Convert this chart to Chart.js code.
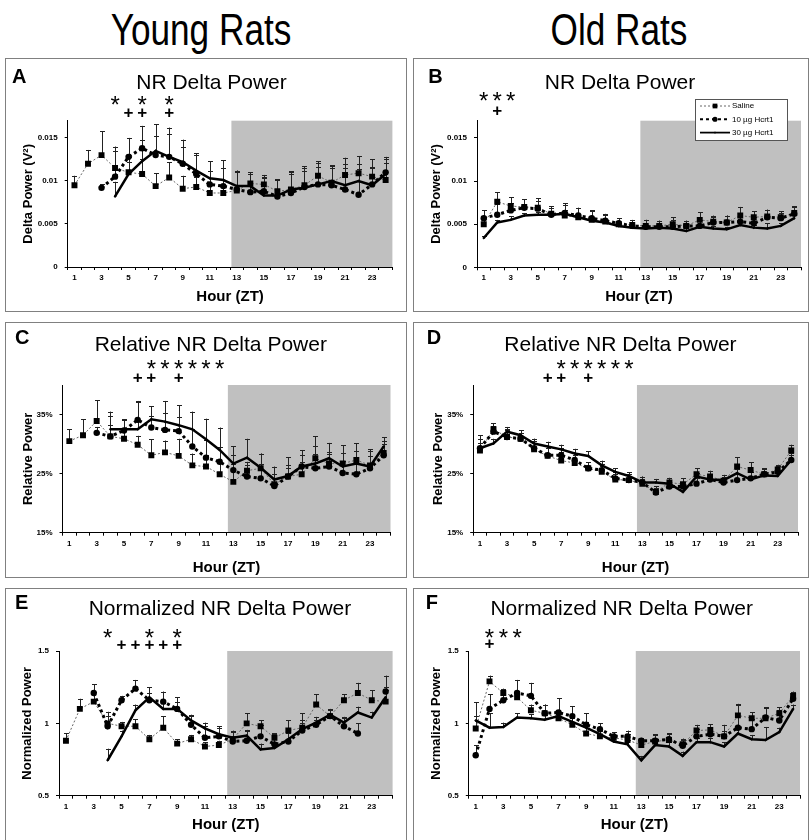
<!DOCTYPE html>
<html>
<head>
<meta charset="utf-8">
<script src="https://cdn.jsdelivr.net/npm/chart.js@4.4.1/dist/chart.umd.min.js"></script>
<style>
  body { margin: 0; background: #fff; }
  #fig { position: relative; width: 810px; height: 840px; overflow: hidden; background: #fff;
         font-family: 'Liberation Sans', Arial, sans-serif; color: #000; }
  .box { position: absolute; border: 1px solid #808080; box-sizing: border-box; }
  .cv { position: absolute; }
  .head { position: absolute; width: 300px; text-align: center; font-size: 44px; line-height: 1;
          transform: scaleX(0.8); white-space: nowrap; }
  .letter { position: absolute; font-weight: bold; font-size: 20px; line-height: 1; }
  .ptitle { position: absolute; width: 360px; text-align: center; font-size: 21px; line-height: 1; white-space: nowrap; }
</style>
</head>
<body>
<div id="fig">
  <div class="head" style="left:51px;top:8px">Young Rats</div>
  <div class="head" style="left:469px;top:8px">Old Rats</div>
</div>
<script>
/* Delta power across the day, young vs old rats */
const hours = [1, 2, 3, 4, 5, 6, 7, 8, 9, 10, 11, 12, 13, 14, 15, 16, 17, 18, 19, 20, 21, 22, 23, 24];
const hourTicks = [1, 3, 5, 7, 9, 11, 13, 15, 17, 19, 21, 23];
const nightStart = 12.6;
const seriesNames = ['Saline', '10 µg Hcrt1', '30 µg Hcrt1'];

const yTicksPower = [0, 0.005, 0.01, 0.015];
const yTicksRel = [15, 25, 35];
const yTicksNorm = [0.5, 1, 1.5];

// A - young, NR delta power
const aSaline = [0.0095, 0.0120, 0.0130, 0.0115, 0.0110, 0.0108, 0.0094, 0.0104, 0.0091, 0.0093, 0.0086, 0.0086, 0.0089, 0.0097, 0.0096, 0.0088, 0.0090, 0.0095, 0.0106, 0.0098, 0.0107, 0.0109, 0.0105, 0.0101];
const aSalineErr = [0.0011, 0.0016, 0.0028, 0.0025, 0.0012, 0.0017, 0.0015, 0.0018, 0.0015, 0.0012, 0.0011, 0.0010, 0.0023, 0.0013, 0.0011, 0.0014, 0.0021, 0.0022, 0.0017, 0.0019, 0.0020, 0.0020, 0.0020, 0.0020];
const aLow = [null, null, 0.0092, 0.0105, 0.0128, 0.0138, 0.0130, 0.0128, 0.0120, 0.0108, 0.0096, 0.0094, 0.0090, 0.0087, 0.0088, 0.0082, 0.0086, 0.0093, 0.0096, 0.0095, 0.0090, 0.0084, 0.0096, 0.0110];
const aLowErr = [null, null, 0.0004, 0.0030, 0.0022, 0.0026, 0.0022, 0.0026, 0.0020, 0.0022, 0.0016, 0.0021, 0.0020, 0.0021, 0.0016, 0.0019, 0.0022, 0.0022, 0.0025, 0.0020, 0.0030, 0.0030, 0.0020, 0.0015];
const aHigh = [null, null, null, 0.0082, 0.0108, 0.0123, 0.0135, 0.0128, 0.0122, 0.0112, 0.0103, 0.0101, 0.0094, 0.0094, 0.0083, 0.0083, 0.0090, 0.0092, 0.0096, 0.0100, 0.0095, 0.0100, 0.0095, 0.0108];
const aHighErr = [null, null, null, 0.0017, 0.0020, 0.0025, 0.0031, 0.0034, 0.0026, 0.0020, 0.0020, 0.0023, 0.0018, 0.0016, 0.0020, 0.0018, 0.0020, 0.0020, 0.0020, 0.0018, 0.0020, 0.0020, 0.0020, 0.0020];

// B - old, NR delta power
const bSaline = [0.0050, 0.0076, 0.0071, 0.0070, 0.0069, 0.0062, 0.0060, 0.0058, 0.0055, 0.0053, 0.0050, 0.0049, 0.0048, 0.0048, 0.0050, 0.0048, 0.0055, 0.0053, 0.0052, 0.0060, 0.0058, 0.0059, 0.0058, 0.0063];
const bSalineErr = [0.0008, 0.0011, 0.0010, 0.0009, 0.0011, 0.0009, 0.0014, 0.0011, 0.0011, 0.0009, 0.0007, 0.0006, 0.0007, 0.0006, 0.0008, 0.0006, 0.0009, 0.0007, 0.0008, 0.0010, 0.0007, 0.0008, 0.0007, 0.0008];
const bLow = [0.0057, 0.0061, 0.0066, 0.0069, 0.0068, 0.0061, 0.0063, 0.0060, 0.0057, 0.0054, 0.0051, 0.0048, 0.0047, 0.0047, 0.0047, 0.0048, 0.0048, 0.0052, 0.0052, 0.0053, 0.0051, 0.0058, 0.0057, 0.0062];
const bLowErr = [0.0009, 0.0012, 0.0008, 0.0010, 0.0009, 0.0008, 0.0009, 0.0009, 0.0008, 0.0007, 0.0006, 0.0005, 0.0008, 0.0007, 0.0008, 0.0006, 0.0007, 0.0006, 0.0008, 0.0009, 0.0007, 0.0008, 0.0006, 0.0008];
const bHigh = [0.0034, 0.0052, 0.0055, 0.0060, 0.0061, 0.0061, 0.0062, 0.0058, 0.0054, 0.0052, 0.0048, 0.0046, 0.0045, 0.0046, 0.0045, 0.0042, 0.0047, 0.0045, 0.0044, 0.0049, 0.0046, 0.0045, 0.0048, 0.0057];
const bHighErr = [0.0002, 0.0003, 0.0004, 0.0003, 0.0003, 0.0003, 0.0004, 0.0003, 0.0003, 0.0003, 0.0003, 0.0003, 0.0003, 0.0003, 0.0003, 0.0003, 0.0003, 0.0003, 0.0003, 0.0004, 0.0003, 0.0006, 0.0003, 0.0004];

// C - young, relative power (%)
const cSaline = [30.5, 31.5, 33.9, 31.3, 30.9, 29.9, 28.1, 28.6, 28.0, 26.4, 26.2, 24.9, 23.6, 25.5, 25.9, 23.2, 24.5, 24.9, 27.6, 26.7, 26.7, 27.3, 26.4, 28.5];
const cSalineErr = [2.0, 2.7, 3.5, 2.0, 1.5, 1.5, 2.7, 2.0, 2.9, 2.0, 2.0, 2.0, 3.0, 1.5, 2.5, 1.8, 1.5, 2.0, 2.0, 1.7, 1.8, 1.5, 2.5, 1.5];
const cLow = [null, null, 31.9, 31.3, 32.3, 34.1, 32.8, 32.4, 32.2, 29.6, 27.7, 27.0, 25.6, 24.5, 24.2, 22.9, 24.5, 26.2, 25.9, 26.2, 25.1, 24.9, 25.9, 28.1];
const cLowErr = [null, null, 1.0, 3.5, 1.8, 3.2, 2.0, 2.8, 2.4, 3.0, 3.0, 2.5, 2.5, 2.0, 2.5, 2.0, 2.0, 2.0, 2.5, 2.5, 2.0, 2.0, 2.0, 2.5];
const cHigh = [null, null, null, 32.5, 32.5, 32.5, 34.2, 33.8, 33.2, 32.5, 30.8, 29.0, 26.7, 27.7, 26.0, 24.0, 24.6, 26.2, 26.7, 27.6, 26.2, 26.7, 26.2, 29.6];
const cHighErr = [null, null, null, 3.0, 1.7, 4.7, 2.2, 3.5, 3.4, 3.0, 3.5, 3.8, 2.9, 3.2, 2.4, 2.2, 3.2, 2.8, 4.6, 2.6, 3.6, 3.4, 2.9, 1.6];

// D - old, relative power (%)
const dSaline = [28.9, 32.5, 31.2, 30.9, 29.1, 28.0, 27.2, 26.8, 25.9, 25.3, 24.0, 23.9, 23.3, 21.9, 23.5, 23.2, 24.9, 24.5, 23.8, 26.2, 25.6, 24.9, 25.7, 28.9];
const dSalineErr = [2.6, 1.0, 1.3, 1.0, 1.8, 1.4, 1.4, 1.4, 1.0, 1.0, 1.0, 1.0, 1.2, 1.0, 0.8, 1.0, 1.0, 1.0, 1.0, 1.6, 1.3, 0.8, 0.8, 1.0];
const dLow = [29.3, 32.1, 31.2, 30.9, 29.3, 28.1, 28.1, 27.3, 25.9, 25.6, 24.2, 23.9, 23.5, 21.8, 22.8, 22.8, 23.3, 24.0, 23.5, 23.9, 24.2, 24.9, 25.3, 27.3];
const dLowErr = [1.5, 1.0, 1.2, 1.0, 1.2, 1.2, 1.2, 1.2, 1.0, 1.0, 1.0, 1.0, 1.0, 0.8, 0.8, 0.8, 1.0, 1.0, 1.0, 1.0, 1.0, 1.0, 1.0, 1.2];
const dHigh = [29.3, 30.1, 32.1, 31.5, 30.1, 29.6, 29.1, 28.4, 28.0, 26.4, 25.3, 24.6, 23.5, 23.5, 23.3, 21.9, 24.5, 24.0, 23.9, 25.1, 24.0, 24.7, 24.6, 27.3];
const dHighErr = [0.8, 0.8, 0.8, 0.8, 0.8, 0.8, 0.8, 0.8, 0.8, 0.8, 0.6, 0.6, 0.6, 0.6, 0.6, 0.6, 0.6, 0.6, 0.6, 0.6, 0.6, 0.6, 0.6, 0.8];

// E - young, normalized power
const eSaline = [0.88, 1.10, 1.15, 1.00, 0.98, 0.98, 0.89, 0.97, 0.86, 0.89, 0.84, 0.85, 0.89, 1.00, 0.98, 0.90, 0.95, 0.97, 1.13, 1.05, 1.16, 1.21, 1.16, 1.15];
const eSalineErr = [0.05, 0.07, 0.07, 0.08, 0.03, 0.05, 0.03, 0.08, 0.03, 0.03, 0.03, 0.03, 0.06, 0.07, 0.04, 0.03, 0.07, 0.10, 0.07, 0.04, 0.04, 0.07, 0.07, 0.10];
const eLow = [null, null, 1.21, 0.98, 1.16, 1.24, 1.16, 1.15, 1.10, 0.99, 0.90, 0.91, 0.875, 0.88, 0.91, 0.855, 0.875, 0.95, 0.99, 1.05, 0.98, 0.93, null, 1.22];
const eLowErr = [null, null, 0.06, 0.07, 0.03, 0.06, 0.05, 0.07, 0.08, 0.06, 0.08, 0.07, 0.07, 0.07, 0.08, 0.07, 0.07, 0.07, 0.03, 0.04, 0.06, 0.07, null, 0.11];
const eHigh = [null, null, null, 0.745, 0.91, 1.09, 1.18, 1.10, 1.10, 1.02, 0.965, 0.925, 0.90, 0.915, 0.82, 0.83, 0.89, 0.96, 1.005, 1.06, 1.005, 1.075, 1.04, 1.18];
const eHighErr = [null, null, null, 0.08, 0.04, 0.04, 0.07, 0.05, 0.05, 0.04, 0.04, 0.04, 0.04, 0.04, 0.04, 0.04, 0.04, 0.04, 0.04, 0.04, 0.04, 0.04, 0.04, 0.05];

// F - old, normalized power
const fSaline = [0.965, 1.29, 1.21, 1.18, 1.09, 1.07, 1.035, 0.99, 0.93, 0.91, 0.90, 0.885, 0.85, 0.875, 0.885, 0.855, 0.95, 0.955, 0.91, 1.055, 1.035, 1.035, 1.07, 1.19];
const fSalineErr = [0.18, 0.04, 0.03, 0.12, 0.04, 0.06, 0.14, 0.07, 0.08, 0.04, 0.04, 0.04, 0.04, 0.05, 0.04, 0.04, 0.04, 0.04, 0.08, 0.08, 0.04, 0.07, 0.04, 0.03];
const fLow = [0.78, 1.10, 1.16, 1.21, 1.19, 1.07, 1.075, 1.05, 0.99, 0.96, 0.91, 0.91, 0.88, 0.88, 0.89, 0.845, 0.91, 0.925, 0.91, 0.97, 0.96, 1.04, 1.02, 1.17];
const fLowErr = [0.07, 0.10, 0.04, 0.09, 0.09, 0.06, 0.10, 0.07, 0.08, 0.04, 0.03, 0.04, 0.02, 0.04, 0.04, 0.04, 0.05, 0.05, 0.04, 0.16, 0.07, 0.07, 0.07, 0.04];
const fHigh = [1.02, 0.97, 0.975, 1.04, 1.035, 1.025, 1.05, 1.01, 0.97, 0.925, 0.875, 0.855, 0.745, 0.85, 0.84, 0.775, 0.87, 0.87, 0.84, 0.93, 0.89, 0.885, 0.94, 1.10];
const fHighErr = [0.03, 0.10, 0.03, 0.03, 0.03, 0.03, 0.03, 0.03, 0.03, 0.03, 0.03, 0.03, 0.03, 0.03, 0.03, 0.03, 0.03, 0.03, 0.03, 0.03, 0.03, 0.09, 0.03, 0.03];

// significance marks (hours)
const starsA = [4, 6, 8], plusA = [5, 6, 8];
const starsB = [1, 2, 3], plusB = [2];
const starsC = [7, 8, 9, 10, 11, 12], plusC = [6, 7, 9];
const starsD = [7, 8, 9, 10, 11, 12], plusD = [6, 7, 9];
const starsE = [4, 7, 9], plusE = [5, 6, 7, 8, 9];
const starsF = [2, 3, 4], plusF = [2];

const fmtPlain = v => String(v);
const fmtPct = v => v + '%';

// layout, page coordinates
const panels = [
  { id: 'A', box: [5, 58, 402, 254], plot: [67.7, 120.7, 392.4, 267], yTitleX: 28, xTitleY: 297,
    letter: [12, 68.3], title: [211.5, 73.3], text: 'NR Delta Power', yTitle: 'Delta Power (V²)',
    yMin: 0, yMax: 0.017, yTicks: yTicksPower, fmt: fmtPlain,
    sets: [aSaline, aSalineErr, aLow, aLowErr, aHigh, aHighErr], stars: starsA, plus: plusA, starY: 99, plusY: 112 },
  { id: 'B', box: [413, 58, 396, 254], plot: [477, 120.7, 801, 267.3], yTitleX: 436.7, xTitleY: 297,
    letter: [428.3, 68.3], title: [620, 73.3], text: 'NR Delta Power', yTitle: 'Delta Power (V²)',
    yMin: 0, yMax: 0.017, yTicks: yTicksPower, fmt: fmtPlain, legend: true,
    sets: [bSaline, bSalineErr, bLow, bLowErr, bHigh, bHighErr], stars: starsB, plus: plusB, starY: 95, plusY: 110 },
  { id: 'C', box: [5, 322, 402, 256], plot: [62.5, 385, 390.5, 532.7], yTitleX: 28, xTitleY: 568,
    letter: [15, 330], title: [210.8, 336], text: 'Relative NR Delta Power', yTitle: 'Relative Power',
    yMin: 15, yMax: 40, yTicks: yTicksRel, fmt: fmtPct,
    sets: [cSaline, cSalineErr, cLow, cLowErr, cHigh, cHighErr], stars: starsC, plus: plusC, starY: 363, plusY: 377 },
  { id: 'D', box: [413, 322, 396, 256], plot: [473.2, 385, 798, 532.7], yTitleX: 438, xTitleY: 568,
    letter: [426.7, 330], title: [620.5, 336], text: 'Relative NR Delta Power', yTitle: 'Relative Power',
    yMin: 15, yMax: 40, yTicks: yTicksRel, fmt: fmtPct,
    sets: [dSaline, dSalineErr, dLow, dLowErr, dHigh, dHighErr], stars: starsD, plus: plusD, starY: 363, plusY: 377 },
  { id: 'E', box: [5, 588, 402, 270], plot: [59, 651, 392.6, 795.7], yTitleX: 27, xTitleY: 825,
    letter: [15, 595], title: [220, 600], text: 'Normalized NR Delta Power', yTitle: 'Normalized Power',
    yMin: 0.5, yMax: 1.5, yTicks: yTicksNorm, fmt: fmtPlain,
    sets: [eSaline, eSalineErr, eLow, eLowErr, eHigh, eHighErr], stars: starsE, plus: plusE, starY: 632, plusY: 644 },
  { id: 'F', box: [413, 588, 396, 270], plot: [468.8, 651, 800, 795.7], yTitleX: 436.7, xTitleY: 825,
    letter: [425.7, 595], title: [621.7, 600], text: 'Normalized NR Delta Power', yTitle: 'Normalized Power',
    yMin: 0.5, yMax: 1.5, yTicks: yTicksNorm, fmt: fmtPlain,
    sets: [fSaline, fSalineErr, fLow, fLowErr, fHigh, fHighErr], stars: starsF, plus: plusF, starY: 632, plusY: 643 }
];

function drawMark(ctx, style, r, x, y) {
  ctx.fillStyle = '#000';
  ctx.beginPath();
  if (style === 'rect') {
    const s = r * Math.SQRT1_2;
    ctx.rect(x - s, y - s, 2 * s, 2 * s);
  } else if (style === 'rectRot') {
    ctx.moveTo(x, y - r); ctx.lineTo(x + r, y); ctx.lineTo(x, y + r); ctx.lineTo(x - r, y); ctx.closePath();
  } else {
    ctx.arc(x, y, r, 0, Math.PI * 2);
  }
  ctx.fill();
}

const nightBand = {
  id: 'nightBand',
  beforeDraw(chart) {
    const { ctx, chartArea } = chart;
    const x0 = chart.scales.x.getPixelForValue(nightStart);
    ctx.save();
    ctx.fillStyle = '#c0c0c0';
    ctx.fillRect(x0, chartArea.top, chartArea.right - x0, chartArea.bottom - chartArea.top);
    ctx.restore();
  }
};

const errorBars = {
  id: 'errorBars',
  beforeDatasetsDraw(chart) {
    const { ctx } = chart;
    const yScale = chart.scales.y;
    ctx.save();
    ctx.strokeStyle = '#222';
    ctx.lineWidth = 1;
    chart.data.datasets.forEach((ds, i) => {
      const meta = chart.getDatasetMeta(i);
      ds.errors.forEach((err, j) => {
        const v = ds.data[j];
        if (v == null || err == null) return;
        const pt = meta.data[j];
        const top = yScale.getPixelForValue(v + err);
        const x = Math.round(pt.x) + 0.5;
        ctx.beginPath();
        ctx.moveTo(x, pt.y); ctx.lineTo(x, top);
        ctx.moveTo(x - 2.5, Math.round(top) + 0.5); ctx.lineTo(x + 2.5, Math.round(top) + 0.5);
        ctx.stroke();
      });
    });
    ctx.restore();
  }
};

const sigMarks = {
  id: 'sigMarks',
  afterDraw(chart, args, opts) {
    const { ctx } = chart;
    const xs = chart.scales.x;
    ctx.save();
    ctx.fillStyle = '#000';
    ctx.textAlign = 'center';
    ctx.textBaseline = 'alphabetic';
    ctx.font = '24px "Liberation Sans"';
    opts.stars.forEach(h => ctx.fillText('*', xs.getPixelForValue(h), opts.starY + 24 * 0.575));
    ctx.font = 'bold 17px "Liberation Sans"';
    opts.plus.forEach(h => ctx.fillText('+', xs.getPixelForValue(h), opts.plusY + 17 * 0.355));
    ctx.restore();
  }
};

const boxLegend = {
  id: 'boxLegend',
  afterDraw(chart, args, opts) {
    if (!opts.show) return;
    const { ctx } = chart;
    ctx.save();
    ctx.fillStyle = '#fff';
    ctx.fillRect(opts.x, opts.y, opts.w, opts.h);
    ctx.strokeStyle = '#555';
    ctx.lineWidth = 1;
    ctx.strokeRect(opts.x + 0.5, opts.y + 0.5, opts.w, opts.h);
    ctx.font = '8px "Liberation Sans"';
    ctx.textBaseline = 'middle';
    [2, 1, 0].forEach((di, row) => {
      const ds = chart.data.datasets[di];
      const y = opts.y + 7 + row * 13.3;
      const x0 = opts.x + 5, x1 = x0 + 30;
      ctx.beginPath();
      ctx.setLineDash(ds.borderDash || []);
      ctx.lineWidth = Math.max(1, ds.borderWidth * 0.7);
      ctx.strokeStyle = ds.borderColor;
      ctx.moveTo(x0, y); ctx.lineTo(x1, y);
      ctx.stroke();
      ctx.setLineDash([]);
      drawMark(ctx, ds.pointStyle, ds.pointRadius * 0.8, (x0 + x1) / 2, y);
      ctx.fillStyle = '#000';
      ctx.fillText(ds.label, x1 + 2, y);
    });
    ctx.restore();
  }
};

function datasetsFor(sets) {
  const [sal, salErr, low, lowErr, high, highErr] = sets;
  return [
    { label: seriesNames[2], data: high, errors: highErr, order: 0,
      borderColor: '#000', borderWidth: 2.5, pointStyle: 'rectRot', pointRadius: 1.5,
      pointBackgroundColor: '#000', pointBorderWidth: 0 },
    { label: seriesNames[1], data: low, errors: lowErr, order: 1,
      borderColor: '#000', borderWidth: 3, borderDash: [3, 3], pointStyle: 'circle', pointRadius: 3.2,
      pointBackgroundColor: '#000', pointBorderWidth: 0 },
    { label: seriesNames[0], data: sal, errors: salErr, order: 2,
      borderColor: '#666', borderWidth: 1, borderDash: [2, 2], pointStyle: 'rect', pointRadius: 4.2,
      pointBackgroundColor: '#000', pointBorderWidth: 0 }
  ];
}

function makePanel(p) {
  const fig = document.getElementById('fig');
  const [bx, by, bw, bh] = p.box;

  const box = document.createElement('div');
  box.className = 'box';
  box.style.cssText = `left:${bx}px;top:${by}px;width:${bw}px;height:${bh}px`;
  fig.appendChild(box);

  const cv = document.createElement('canvas');
  cv.className = 'cv';
  cv.width = bw; cv.height = bh;
  cv.style.cssText = `left:${bx}px;top:${by}px;width:${bw}px;height:${bh}px`;
  fig.appendChild(cv);

  const letter = document.createElement('div');
  letter.className = 'letter';
  letter.textContent = p.id;
  letter.style.cssText = `left:${p.letter[0]}px;top:${p.letter[1] - 2.6}px`;
  fig.appendChild(letter);

  const title = document.createElement('div');
  title.className = 'ptitle';
  title.textContent = p.text;
  title.style.cssText = `left:${p.title[0] - 180}px;top:${p.title[1] - 2.7}px`;
  fig.appendChild(title);

  // plot area in canvas coords
  const l = p.plot[0] - bx, t = p.plot[1] - by, r = p.plot[2] - bx, b = p.plot[3] - by;
  const padLeft = p.yTitleX - bx - 7.8;
  const yWidth = l - padLeft;
  const scaleBottom = Math.min(bh, p.xTitleY - by + 9);
  const xHeight = scaleBottom - b;

  new Chart(cv, {
    type: 'line',
    data: { labels: hours, datasets: datasetsFor(p.sets) },
    options: {
      responsive: false,
      animation: false,
      devicePixelRatio: 1,
      layout: { padding: { left: padLeft, top: t, right: bw - r, bottom: bh - scaleBottom } },
      elements: { line: { tension: 0 } },
      plugins: {
        legend: { display: false },
        tooltip: { enabled: false },
        sigMarks: { stars: p.stars, plus: p.plus, starY: p.starY - by, plusY: p.plusY - by },
        boxLegend: { show: !!p.legend, x: 695 - bx, y: 99 - by, w: 92, h: 41 }
      },
      scales: {
        x: {
          type: 'linear', min: 0.5, max: 24.5,
          afterBuildTicks: axis => {
            axis.ticks = hours.flatMap(h => [h - 0.5, h]).concat([24.5]).map(v => ({ value: v }));
          },
          afterFit: axis => { axis.height = xHeight; },
          border: { color: '#000', width: 1 },
          grid: {
            drawOnChartArea: false, tickLength: 3,
            tickColor: ctx => (ctx.tick && ctx.tick.value % 1 !== 0) ? '#000' : 'rgba(0,0,0,0)'
          },
          ticks: {
            autoSkip: false, maxRotation: 0, minRotation: 0, padding: 3, color: '#000',
            font: { size: 8, weight: 'bold' },
            callback: v => hourTicks.includes(v) ? String(v) : ''
          },
          title: { display: true, text: 'Hour (ZT)', color: '#000', padding: 0, font: { size: 15, weight: 'bold' } }
        },
        y: {
          min: p.yMin, max: p.yMax,
          afterBuildTicks: axis => { axis.ticks = p.yTicks.map(v => ({ value: v })); },
          afterFit: axis => { axis.width = yWidth; },
          border: { color: '#000', width: 1 },
          grid: { drawOnChartArea: false, tickLength: 3, color: '#000' },
          ticks: { padding: 7, color: '#000', font: { size: 8, weight: 'bold' }, callback: v => p.fmt(v) },
          title: { display: true, text: p.yTitle, color: '#000', padding: 0, font: { size: 13, weight: 'bold' } }
        }
      }
    },
    plugins: [nightBand, errorBars, sigMarks, boxLegend]
  });
}

Chart.defaults.font.family = "'Liberation Sans', Arial, sans-serif";
panels.forEach(makePanel);
</script>
</body>
</html>
